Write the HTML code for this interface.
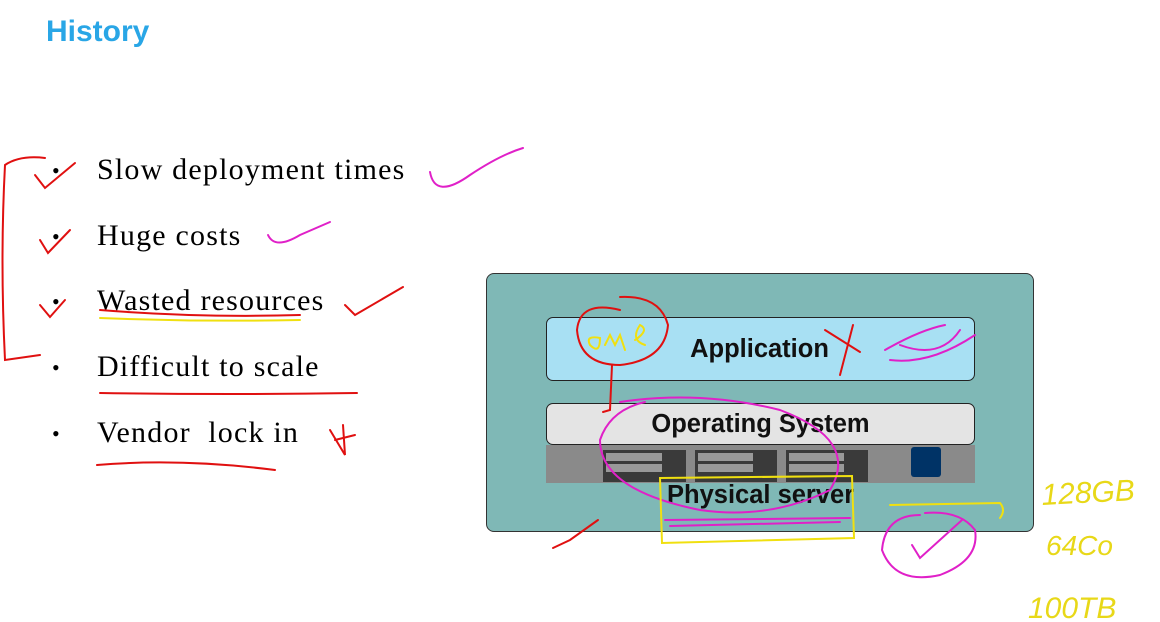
<!DOCTYPE html>
<html><head><style>
body{margin:0;width:1160px;height:622px;background:#fff;position:relative;overflow:hidden;font-family:"Liberation Sans",sans-serif}
.a{position:absolute}
.li{position:absolute;font-family:"Liberation Serif",serif;font-size:30px;letter-spacing:1.2px;color:#000}
.b{position:absolute;left:52px;font-family:"Liberation Serif",serif;font-size:22px}
</style></head><body>
<div class="a" style="left:46px;top:15px;font-size:30px;font-weight:bold;color:#29a6e6">History</div>
<div class="b" style="top:158px">•</div><div class="li" style="left:97px;top:153px">Slow deployment times</div>
<div class="b" style="top:224px">•</div><div class="li" style="left:97px;top:219px">Huge costs</div>
<div class="b" style="top:289px">•</div><div class="li" style="left:97px;top:284px">Wasted resources</div>
<div class="b" style="top:355px">•</div><div class="li" style="left:97px;top:350px">Difficult to scale</div>
<div class="b" style="top:421px">•</div><div class="li" style="left:97px;top:416px">Vendor&nbsp; lock in</div>

<div class="a" style="left:486px;top:273px;width:546px;height:257px;background:#7fb8b6;border:1.5px solid #333;border-radius:8px"></div>
<div class="a" style="left:546px;top:445px;width:429px;height:38px;background:#8a8a8a"></div>
<div class="a" style="left:603px;top:450px;width:83px;height:32px;background:#3a3a3a"></div>
<div class="a" style="left:695px;top:450px;width:82px;height:32px;background:#3a3a3a"></div>
<div class="a" style="left:786px;top:450px;width:82px;height:32px;background:#3a3a3a"></div>
<div class="a" style="left:606px;top:453px;width:56px;height:8px;background:#999"></div>
<div class="a" style="left:606px;top:464px;width:56px;height:8px;background:#999"></div>
<div class="a" style="left:698px;top:453px;width:55px;height:8px;background:#999"></div>
<div class="a" style="left:698px;top:464px;width:55px;height:8px;background:#999"></div>
<div class="a" style="left:789px;top:453px;width:55px;height:8px;background:#999"></div>
<div class="a" style="left:789px;top:464px;width:55px;height:8px;background:#999"></div>
<div class="a" style="left:911px;top:447px;width:30px;height:30px;background:#003366;border-radius:3px"></div>
<div class="a" style="left:546px;top:317px;width:427px;height:62px;background:#a8e0f3;border:1.5px solid #222;border-radius:7px;font-size:25.5px;font-weight:bold;color:#111;text-align:center;line-height:62px"><span style="margin-left:-2px">Application</span></div>
<div class="a" style="left:546px;top:403px;width:427px;height:40px;background:#e4e4e4;border:1.5px solid #222;border-radius:7px;font-size:25.5px;font-weight:bold;color:#111;text-align:center;line-height:40px">Operating System</div>
<div class="a" style="left:667px;top:481px;font-size:25.5px;font-weight:bold;color:#111">Physical server</div>

<svg class="a" style="left:0;top:0" width="1160" height="622" fill="none" stroke-linecap="round">
<g stroke="#e01010" stroke-width="2">
<path d="M45 158 Q20 155 5 165 Q0 260 5 360 L40 355"/>
<path d="M35 175 L45 188 L75 163"/><path d="M40 240 L48 253 L70 230"/><path d="M40 305 L50 317 L65 300"/>
<path d="M345 305 L355 315 L403 287"/><path d="M330 430 L345 455 L343 425 M335 440 L355 435"/>
<path d="M100 310 Q200 318 300 315"/><path d="M100 393 Q230 395 357 393"/><path d="M97 465 Q180 458 275 470"/>
<path d="M620 310 Q580 300 577 330 Q580 365 620 365 Q665 360 668 325 Q660 295 620 297"/>
<path d="M612 365 L610 410 L603 412"/>
<path d="M825 330 L860 352 M853 325 L840 375"/>
<path d="M553 548 L570 540 L598 520"/>
</g>
<g stroke="#e020c8" stroke-width="2">
<path d="M430 172 Q435 200 470 175 Q500 155 523 148"/>
<path d="M268 235 Q275 250 300 235 L330 222"/>
<path d="M620 402 Q700 390 780 410 Q860 440 830 490 Q770 520 700 510 Q600 490 600 440 Q610 410 645 402"/>
<path d="M665 520 L850 518 M670 526 L840 522"/>
<path d="M885 350 Q920 330 945 325 M890 360 Q930 365 975 335 M900 345 Q940 360 960 330"/>
<path d="M920 515 Q885 515 882 550 Q895 585 940 575 Q980 560 975 530 Q960 510 925 513"/>
<path d="M912 545 L920 558 L962 520"/>
</g>
<g stroke="#f0e010" stroke-width="2">
<path d="M660 478 L852 476 L854 538 L662 543 Z"/>
<path d="M890 505 L1000 503 Q1006 510 1000 518"/>
<path d="M590 345 Q585 335 600 338 Q600 355 590 345 M605 345 L610 335 L615 345 L620 335 L625 350 M635 340 Q650 330 640 325 Q630 340 645 345"/>
<path d="M100 318 Q200 322 300 320"/>
</g>
<text x="1042" y="505" fill="#e8d818" font-size="30" font-family="Liberation Sans,sans-serif" transform="rotate(-3 1042 505)" style="font-style:italic">128GB</text>
<text x="1046" y="555" fill="#e8d818" font-size="28" font-family="Liberation Sans,sans-serif" style="font-style:italic">64Co</text>
<text x="1028" y="618" fill="#e8d818" font-size="30" font-family="Liberation Sans,sans-serif" style="font-style:italic">100TB</text>
</svg>
</body></html>
